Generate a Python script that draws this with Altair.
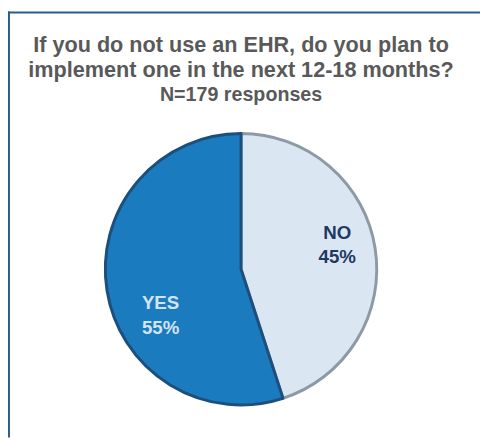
import altair as alt
import pandas as pd

categories = ["NO", "YES"]
percents = [45, 55]
labels = ["NO\n45%", "YES\n55%"]
slice_order = [1, 2]
fill_colors = ["#dbe6f3", "#1a7bbf"]
edge_colors = ["#8d9aa6", "#1c4f7c"]

title_lines = ["If you do not use an EHR, do you plan to", "implement one in the next 12-18 months?"]
subtitle = "N=179 responses"

df = pd.DataFrame({"answer": categories, "pct": percents, "label": labels, "order": slice_order})

base = alt.Chart(df).encode(
    theta=alt.Theta("pct:Q", stack=True),
    order=alt.Order("order:Q"),
)

pie = base.mark_arc(outerRadius=138, strokeWidth=3, strokeJoin="round").encode(
    color=alt.Color("answer:N", scale=alt.Scale(domain=categories, range=fill_colors), legend=None),
    stroke=alt.Stroke("answer:N", scale=alt.Scale(domain=categories, range=edge_colors), legend=None),
)

txt_style = dict(radius=95, lineBreak="\n", font="Liberation Sans", fontSize=19,
                 fontWeight="bold", lineHeight=25, align="center", baseline="middle")

no_text = base.mark_text(dx=4, dy=-22, color="#1f3864", **txt_style).encode(
    text="label:N",
    opacity=alt.condition(alt.datum.answer == "NO", alt.value(1), alt.value(0)),
)
yes_text = base.mark_text(dx=12, dy=20, color="#d2e3f4", **txt_style).encode(
    text="label:N",
    opacity=alt.condition(alt.datum.answer == "YES", alt.value(1), alt.value(0)),
)

frame_df = pd.DataFrame({"k": [0]})
top_line = alt.Chart(frame_df).mark_rule(color="#2b5d8c", strokeWidth=2).encode(
    x=alt.value(-99), x2=alt.value(381), y=alt.value(-123)
)
left_line = alt.Chart(frame_df).mark_rule(color="#2b5d8c", strokeWidth=2).encode(
    x=alt.value(-98), y=alt.value(-124), y2=alt.value(309)
)

chart = alt.layer(top_line, left_line, pie, no_text, yes_text).properties(
    width=276,
    height=276,
    padding={"left": 99, "top": 124, "right": 105, "bottom": 33},
    autosize="none",
    title=alt.Title(
        text=title_lines,
        subtitle=subtitle,
        font="Liberation Sans",
        fontSize=22,
        fontWeight="bold",
        color="#595959",
        lineHeight=26,
        subtitleFont="Liberation Sans",
        subtitleFontSize=20,
        subtitleFontWeight="bold",
        subtitleColor="#595959",
        subtitlePadding=3,
        anchor="middle",
        frame="group",
        offset=-97,
    ),
).configure_view(stroke=None)

chart.save("out.html", embed_options={"renderer": "svg", "actions": False})
